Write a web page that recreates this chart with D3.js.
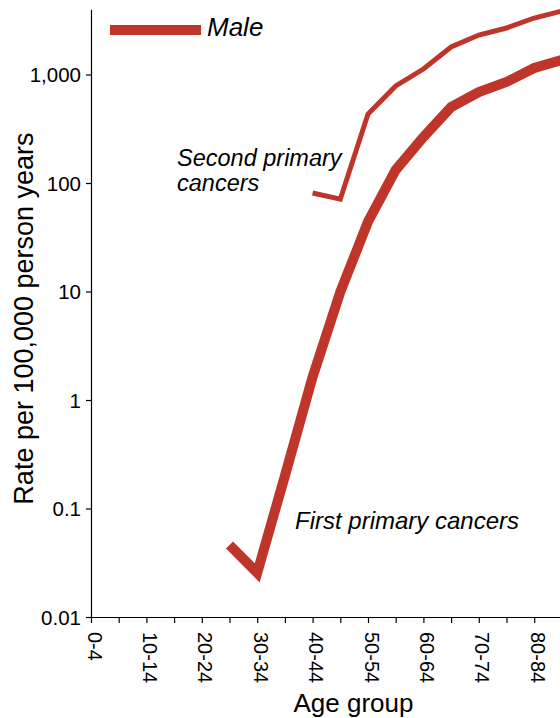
<!DOCTYPE html>
<html>
<head>
<meta charset="utf-8">
<script src="https://cdn.jsdelivr.net/npm/d3@7"></script>
<style>
html,body{margin:0;padding:0;background:#fff;}
svg{display:block;font-family:"Liberation Sans",Arial,sans-serif;}
</style>
</head>
<body>
<svg id="chart" width="560" height="718"></svg>
<script>
const ageGroups = ["0-4","5-9","10-14","15-19","20-24","25-29","30-34","35-39","40-44","45-49","50-54","55-59","60-64","65-69","70-74","75-79","80-84","85+"];
const firstPrimaryAges = ["25-29","30-34","35-39","40-44","45-49","50-54","55-59","60-64","65-69","70-74","75-79","80-84","85+"];
const firstPrimaryRates = [0.046,0.0255,0.2,1.63,9.9,44,132,265,502,690,853,1148,1361];
const secondPrimaryAges = ["40-44","45-49","50-54","55-59","60-64","65-69","70-74","75-79","80-84","85+"];
const secondPrimaryRates = [81,71,432,784,1124,1793,2312,2685,3317,3846];
const yTickValues = [0.01,0.1,1,10,100,1000];
const yTickLabels = ["0.01","0.1","1","10","100","1,000"];
const labeledAges = ["0-4","10-14","20-24","30-34","40-44","50-54","60-64","70-74","80-84"];

const red = "#c0352a";
const FONT = "'Liberation Sans',Arial,sans-serif";
const svg = d3.select("#chart");
const x0 = 91, step = 27.7;
const x = d3.scalePoint().domain(ageGroups).range([x0, x0 + step*(ageGroups.length-1)]);
const y = d3.scaleLog().domain([0.01, 4000]).range([617, 9.2]);

// y axis
const yAxis = d3.axisLeft(y).tickValues(yTickValues)
  .tickFormat((d,i)=>yTickLabels[i]).tickSize(5).tickSizeOuter(0);
const gy = svg.append("g").attr("transform",`translate(${x0},0)`).call(yAxis);
gy.select(".domain").attr("stroke","#000").attr("stroke-width",1.2);
gy.selectAll(".tick line").attr("stroke","#000").attr("stroke-width",1.2);
gy.selectAll(".tick text").attr("font-size",20.5).attr("fill","#000")
  .attr("font-family",FONT).attr("x",-10).attr("dy","0.36em");

// x axis
const xAxis = d3.axisBottom(x).tickSize(6).tickSizeOuter(0)
  .tickFormat(d => labeledAges.includes(d) ? d : "");
const gx = svg.append("g").attr("transform","translate(0,617)").call(xAxis);
gx.select(".domain").attr("stroke","#000").attr("stroke-width",1.2)
  .attr("d", `M${x0},0.5H560`);
gx.selectAll(".tick line").attr("stroke","#000").attr("stroke-width",1.2);
gx.selectAll(".tick text").attr("font-size",20).attr("fill","#000")
  .attr("font-family",FONT)
  .attr("transform","rotate(90)").attr("x",15).attr("y",4).attr("dy",0)
  .attr("text-anchor","start");

// axis titles
svg.append("text").attr("transform","translate(33,318.5) rotate(-90)")
  .attr("text-anchor","middle").attr("font-size",27).attr("fill","#000")
  .text("Rate per 100,000 person years");
svg.append("text").attr("x",353.5).attr("y",712)
  .attr("text-anchor","middle").attr("font-size",26).attr("fill","#000")
  .text("Age group");

// lines
const line = d3.line().x(d=>x(d[0])).y(d=>y(d[1]));
svg.append("path").datum(firstPrimaryAges.map((a,i)=>[a,firstPrimaryRates[i]]))
  .attr("d",line).attr("fill","none").attr("stroke",red).attr("stroke-width",10)
  .attr("stroke-linejoin","miter").attr("stroke-miterlimit",10);
svg.append("path").datum(secondPrimaryAges.map((a,i)=>[a,secondPrimaryRates[i]]))
  .attr("d",line).attr("fill","none").attr("stroke",red).attr("stroke-width",5)
  .attr("stroke-linejoin","miter").attr("stroke-miterlimit",10);

// legend
svg.append("line").attr("x1",110).attr("x2",201).attr("y1",30).attr("y2",30)
  .attr("stroke",red).attr("stroke-width",10);
svg.append("text").attr("x",207).attr("y",36).attr("font-size",26)
  .attr("font-style","italic").attr("fill","#000").text("Male");

// annotations
svg.append("text").attr("x",177).attr("y",166).attr("font-size",23.5)
  .attr("font-style","italic").attr("fill","#000").text("Second primary");
svg.append("text").attr("x",177).attr("y",191).attr("font-size",23.5)
  .attr("font-style","italic").attr("fill","#000").text("cancers");
svg.append("text").attr("x",295).attr("y",529).attr("font-size",24)
  .attr("font-style","italic").attr("fill","#000").text("First primary cancers");
</script>
</body>
</html>
